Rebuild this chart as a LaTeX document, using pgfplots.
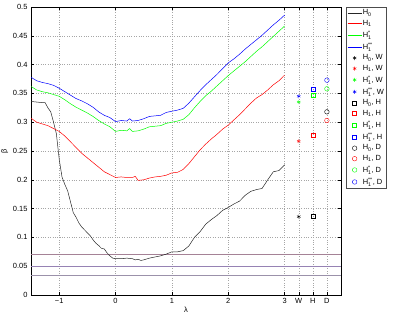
\documentclass[border=0pt]{standalone}
\usepackage{fontspec}
\setmainfont{Liberation Sans}
\usepackage{amsmath}
\usepackage{pgfplots}
\pgfplotsset{compat=1.18}
\newcommand{\Hz}{H$_{\text{0}}$}
\newcommand{\Ho}{H$_{\text{1}}$}
\newcommand{\Hs}{H$_{\text{1}}^{\text{*}}$}
\newcommand{\Hss}{H$_{\text{1}}^{\text{**}}$}
\pgfplotsset{
  linelegend/.style={legend image code/.code={\draw[##1] (0bp,0bp) -- (14bp,0bp);}},
  marklegend/.style={legend image code/.code={\path[draw=none,fill=none] (0bp,-1bp) rectangle (14bp,1bp); \draw[##1] plot coordinates {(7bp,0bp)};}},
}
\begin{document}
\begin{tikzpicture}
\path[use as bounding box] (-31bp,-23bp) rectangle (373bp,295bp);
\begin{axis}[
  scale only axis, width=310bp, height=288bp,
  xmin=-1.5, xmax=4, ymin=0, ymax=0.5,
  xtick={-1,0,1,2,3,3.25,3.5,3.75},
  xticklabels={−1,0,1,2,3,W,H,D},
  ytick={0,0.05,0.1,0.15,0.2,0.25,0.3,0.35,0.4,0.45,0.5},
  yticklabels={0,0.05,0.1,0.15,0.2,0.25,0.3,0.35,0.4,0.45,0.5},
  tick align=inside, major tick length=3bp,
  grid=major, major grid style={dotted, gray!70, line width=0.4bp},
  axis line style={line width=0.5bp},
  every tick/.style={black, line width=0.4bp},
  tick label style={font=\fontsize{7.5}{9}\selectfont},
  xlabel={λ}, ylabel={β},
  label style={font=\fontsize{7.5}{9}\selectfont},
  xlabel style={yshift=4bp},
  ylabel style={yshift=-2bp},
  legend style={at={(1.015,1)}, anchor=north west, draw=black!70, line width=0.5bp,
    font=\fontsize{7.5}{9}\selectfont, row sep=2.1bp, inner sep=1.5bp,
    nodes={inner sep=0.9bp},
    cells={anchor=west}},
]
% horizontal reference lines
\addplot[forget plot, color={rgb,255:red,165;green,130;blue,150}, line width=0.45bp] coordinates {(-1.5,0.07) (4,0.07)};
\addplot[forget plot, color={rgb,255:red,150;green,130;blue,180}, line width=0.45bp] coordinates {(-1.5,0.05) (4,0.05)};
\addplot[forget plot, color={rgb,255:red,155;green,145;blue,170}, line width=0.45bp] coordinates {(-1.5,0.035) (4,0.035)};
% H0
\addplot[black!85, line width=0.5bp, linelegend] coordinates {
(-1.5,0.336) (-1.4,0.335) (-1.3,0.334) (-1.25,0.334) (-1.2,0.325) (-1.15,0.318) (-1.1,0.300) (-1.05,0.280)
(-1.0,0.236) (-0.95,0.205) (-0.9,0.192) (-0.85,0.181) (-0.8,0.162) (-0.75,0.143) (-0.7,0.135) (-0.65,0.125)
(-0.6,0.118) (-0.55,0.113) (-0.5,0.108) (-0.45,0.103) (-0.4,0.096) (-0.35,0.090) (-0.3,0.086) (-0.25,0.081)
(-0.2,0.080) (-0.15,0.073) (-0.1,0.068) (-0.05,0.064) (0,0.063) (0.1,0.063) (0.2,0.064) (0.3,0.063)
(0.35,0.061) (0.4,0.062) (0.45,0.060) (0.5,0.061) (0.6,0.064) (0.7,0.066) (0.8,0.068) (0.9,0.071)
(1.0,0.075) (1.1,0.075) (1.2,0.077) (1.3,0.085) (1.4,0.100) (1.5,0.110) (1.6,0.123) (1.7,0.131)
(1.8,0.138) (1.9,0.147) (2.0,0.152) (2.1,0.158) (2.2,0.163) (2.3,0.173) (2.4,0.180) (2.5,0.183)
(2.6,0.185) (2.7,0.200) (2.8,0.214) (2.9,0.216) (3.0,0.226)};
\addlegendentry{\Hz}
% H1
\addplot[red, line width=0.5bp, linelegend] coordinates {
(-1.5,0.307) (-1.4,0.300) (-1.3,0.297) (-1.2,0.294) (-1.1,0.289) (-1.0,0.284) (-0.9,0.276) (-0.8,0.266)
(-0.7,0.256) (-0.6,0.246) (-0.5,0.238) (-0.4,0.230) (-0.3,0.222) (-0.2,0.214) (-0.1,0.209) (0,0.204)
(0.1,0.205) (0.2,0.204) (0.3,0.204) (0.35,0.206) (0.4,0.199) (0.5,0.200) (0.6,0.203) (0.7,0.205)
(0.8,0.206) (0.9,0.208) (1.0,0.212) (1.1,0.213) (1.2,0.218) (1.3,0.228) (1.4,0.240) (1.5,0.252)
(1.6,0.262) (1.7,0.271) (1.8,0.279) (1.9,0.288) (2.0,0.295) (2.1,0.304) (2.2,0.313) (2.3,0.323)
(2.4,0.333) (2.5,0.342) (2.6,0.348) (2.7,0.356) (2.8,0.365) (2.9,0.372) (3.0,0.382)};
\addlegendentry{\Ho}
% H1*
\addplot[green, line width=0.5bp, linelegend] coordinates {
(-1.5,0.362) (-1.4,0.356) (-1.3,0.353) (-1.2,0.351) (-1.1,0.348) (-1.0,0.345) (-0.9,0.339) (-0.8,0.332)
(-0.7,0.326) (-0.6,0.321) (-0.5,0.316) (-0.4,0.310) (-0.3,0.303) (-0.2,0.297) (-0.1,0.292) (0,0.284)
(0.1,0.286) (0.2,0.285) (0.25,0.289) (0.3,0.284) (0.4,0.285) (0.5,0.288) (0.6,0.292) (0.7,0.293)
(0.8,0.294) (0.9,0.298) (1.0,0.300) (1.1,0.302) (1.2,0.305) (1.3,0.313) (1.4,0.325) (1.5,0.336)
(1.6,0.346) (1.7,0.354) (1.8,0.363) (1.9,0.372) (2.0,0.381) (2.1,0.389) (2.2,0.397) (2.3,0.405)
(2.4,0.414) (2.5,0.423) (2.6,0.431) (2.7,0.440) (2.8,0.449) (2.9,0.458) (3.0,0.467)};
\addlegendentry{\Hs}
% H1**
\addplot[blue, line width=0.5bp, linelegend] coordinates {
(-1.5,0.378) (-1.4,0.372) (-1.3,0.369) (-1.2,0.367) (-1.1,0.364) (-1.0,0.359) (-0.9,0.353) (-0.8,0.347)
(-0.7,0.341) (-0.6,0.337) (-0.5,0.332) (-0.4,0.326) (-0.3,0.318) (-0.2,0.312) (-0.1,0.308) (0,0.301)
(0.1,0.303) (0.2,0.302) (0.25,0.306) (0.3,0.302) (0.4,0.303) (0.5,0.306) (0.6,0.310) (0.7,0.311)
(0.8,0.312) (0.9,0.317) (1.0,0.319) (1.1,0.321) (1.2,0.324) (1.3,0.333) (1.4,0.344) (1.5,0.355)
(1.6,0.365) (1.7,0.374) (1.8,0.383) (1.9,0.393) (2.0,0.403) (2.1,0.410) (2.2,0.418) (2.3,0.427)
(2.4,0.435) (2.5,0.443) (2.6,0.451) (2.7,0.460) (2.8,0.469) (2.9,0.477) (3.0,0.486)};
\addlegendentry{\Hss}
% W
\addplot[only marks, black, mark=asterisk, mark size=2bp, mark options={line width=0.4bp}, marklegend] coordinates {(3.25,0.136)};
\addlegendentry{\Hz, W}
\addplot[only marks, red, mark=asterisk, mark size=2bp, mark options={line width=0.4bp}, marklegend] coordinates {(3.25,0.267)};
\addlegendentry{\Ho, W}
\addplot[only marks, green, mark=asterisk, mark size=2bp, mark options={line width=0.4bp}, marklegend] coordinates {(3.25,0.335)};
\addlegendentry{\Hs, W}
\addplot[only marks, blue, mark=asterisk, mark size=2bp, mark options={line width=0.4bp}, marklegend] coordinates {(3.25,0.345)};
\addlegendentry{\Hss, W}
% H
\addplot[only marks, black, mark=square, mark size=2bp, mark options={line width=0.4bp}, marklegend] coordinates {(3.5,0.137)};
\addlegendentry{\Hz, H}
\addplot[only marks, red, mark=square, mark size=2bp, mark options={line width=0.4bp}, marklegend] coordinates {(3.5,0.277)};
\addlegendentry{\Ho, H}
\addplot[only marks, green, mark=square, mark size=2bp, mark options={line width=0.4bp}, marklegend] coordinates {(3.5,0.347)};
\addlegendentry{\Hs, H}
\addplot[only marks, blue, mark=square, mark size=2bp, mark options={line width=0.4bp}, marklegend] coordinates {(3.5,0.358)};
\addlegendentry{\Hss, H}
% D
\addplot[only marks, black, mark=o, mark size=2.3bp, mark options={line width=0.4bp}, marklegend] coordinates {(3.75,0.318)};
\addlegendentry{\Hz, D}
\addplot[only marks, red, mark=o, mark size=2.3bp, mark options={line width=0.4bp}, marklegend] coordinates {(3.75,0.303)};
\addlegendentry{\Ho, D}
\addplot[only marks, green, mark=o, mark size=2.3bp, mark options={line width=0.4bp}, marklegend] coordinates {(3.75,0.358)};
\addlegendentry{\Hs, D}
\addplot[only marks, blue, mark=o, mark size=2.3bp, mark options={line width=0.4bp}, marklegend] coordinates {(3.75,0.373)};
\addlegendentry{\Hss, D}
\end{axis}
\end{tikzpicture}
\end{document}
